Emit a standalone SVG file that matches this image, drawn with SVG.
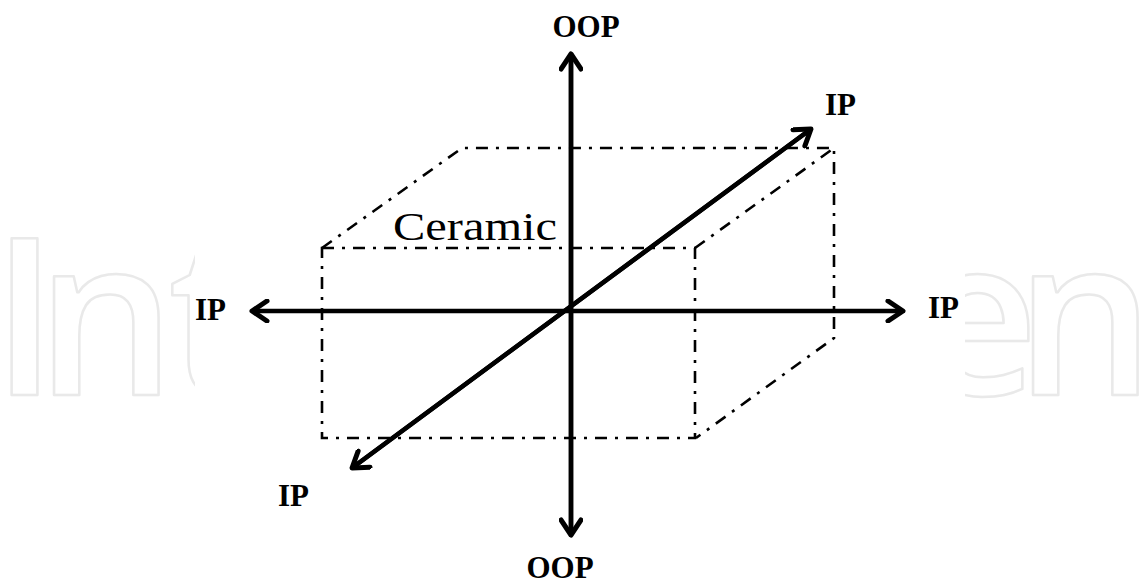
<svg xmlns="http://www.w3.org/2000/svg" width="1148" height="583" viewBox="0 0 1148 583">
<style>
.wm{font-family:"Open Sans",sans-serif;font-weight:600;font-size:220px;fill:none;stroke:#e9e9e9;stroke-width:2.5;stroke-linejoin:round}
.box{fill:none;stroke:#000;stroke-width:2.6;stroke-dasharray:12 8 3 8}
.axis{fill:none;stroke:#000;stroke-width:4.5}
.head{fill:none;stroke:#000;stroke-width:5;stroke-linecap:round;stroke-linejoin:round}
.lbl{font-family:"Liberation Serif","Times New Roman",serif;font-weight:bold;font-size:31px;fill:#000}
.cer{font-family:"Liberation Serif","Times New Roman",serif;font-size:41px;fill:#000}
</style>
<defs>
<marker id="ah" viewBox="-20 -12 24 24" refX="0" refY="0" markerWidth="24" markerHeight="24" markerUnits="userSpaceOnUse" orient="auto">
<path d="M -15 -10 L 0 0 L -15 10" class="head"/>
</marker>
<clipPath id="wmclip">
<rect x="0" y="0" width="195" height="583"/>
<rect x="965" y="0" width="183" height="583"/>
</clipPath>
</defs>
<rect width="1148" height="583" fill="#fff"/>
<g id="watermark" clip-path="url(#wmclip)">
<text class="wm" x="-9" y="395">I</text>
<text class="wm" x="36" y="395">n</text>
<text class="wm" x="168" y="395">t</text>
<text class="wm" x="912" y="395">e</text>
<text class="wm" x="1015" y="395">n</text>
</g>
<g id="ceramic-box">
<path class="box" d="M322 248 H695 V438 H322 Z"/>
<path class="box" d="M322 248 L462 148 H834 V338 L696 438"/>
<path class="box" d="M695 248 L834 148"/>
<text class="cer" x="393" y="240" textLength="164" lengthAdjust="spacingAndGlyphs">Ceramic</text>
</g>
<g id="connectors">
<line class="axis" x1="571" y1="535" x2="571" y2="54" marker-end="url(#ah)"/>
<line class="axis" x1="571" y1="54" x2="571" y2="535" marker-end="url(#ah)"/>
<line class="axis" x1="571" y1="311" x2="252" y2="311" marker-end="url(#ah)"/>
<line class="axis" x1="571" y1="311" x2="903" y2="311" marker-end="url(#ah)"/>
<line class="axis" x1="352" y1="468" x2="811" y2="129" marker-end="url(#ah)"/>
<line class="axis" x1="811" y1="129" x2="352" y2="468" marker-end="url(#ah)"/>
</g>
<g id="label-oop-top"><text class="lbl" x="586" y="37" text-anchor="middle">OOP</text></g>
<g id="label-oop-bottom"><text class="lbl" x="560" y="578" text-anchor="middle">OOP</text></g>
<g id="label-ip-left"><text class="lbl" x="195" y="320">IP</text></g>
<g id="label-ip-right"><text class="lbl" x="928" y="318">IP</text></g>
<g id="label-ip-topright"><text class="lbl" x="825" y="115">IP</text></g>
<g id="label-ip-bottomleft"><text class="lbl" x="278" y="506">IP</text></g>
</svg>
